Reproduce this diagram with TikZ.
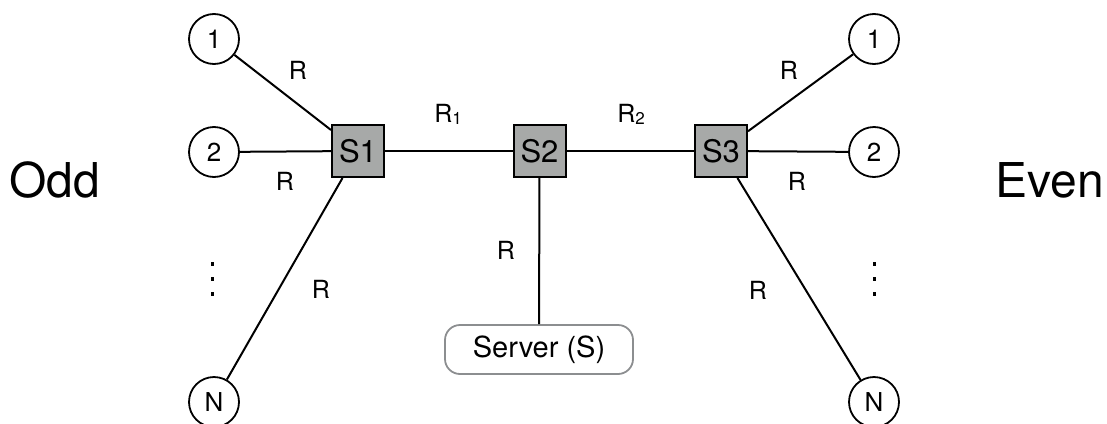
\documentclass[tikz,border=0pt]{standalone}
\usepackage{fontspec}
\setmainfont{TeX Gyre Heros}
\definecolor{boxgray}{HTML}{A7A9A8}
\definecolor{servergray}{HTML}{8C8E90}
\newcommand{\subidx}[1]{\raisebox{-2pt}{\fontsize{17}{17}\selectfont #1}}
\begin{document}
\begin{tikzpicture}[x=1pt,y=-1pt,line width=2pt,
  client/.style={circle,draw,line width=1.8pt,minimum size=50pt,inner sep=0pt,font=\fontsize{26}{26}\selectfont},
  switchbox/.style={draw,fill=boxgray,minimum size=52pt,inner sep=0pt,font=\fontsize{31}{31}\selectfont},
  server/.style={draw=servergray,line width=1.8pt,rounded corners=15pt,minimum width=188pt,minimum height=49pt,font=\fontsize{29}{29}\selectfont},
  lab/.style={font=\fontsize{25}{25}\selectfont,inner sep=0pt},
  big/.style={font=\fontsize{48}{48}\selectfont,inner sep=0pt}]
\useasboundingbox (0,0) rectangle (1107,423);
% switches
\node[switchbox] (s1) at (358,151) {S1};
\node[switchbox] (s2) at (539.5,151) {S2};
\node[switchbox] (s3) at (721,151) {S3};
\node[server] (srv) at (539,349.5) {Server (S)};
% left clients
\node[client] (l1) at (214,39) {1};
\node[client] (l2) at (214,152) {2};
\node[client] (lN) at (214,402) {N};
% right clients
\node[client] (r1) at (874,39) {1};
\node[client] (r2) at (874,152) {2};
\node[client] (rN) at (874,402) {N};
% links
\draw (l1) -- (s1);
\draw (l2) -- (s1);
\draw (lN) -- (s1);
\draw (r1) -- (s3);
\draw (r2) -- (s3);
\draw (rN) -- (s3);
\draw (s1) -- (s2);
\draw (s2) -- (s3);
\draw (s2) -- (srv);
% labels
\node[lab] (a1) at (298,70) {R};
\node[lab] (a2) at (285,181) {R};
\node[lab] (a3) at (321,289) {R};
\node[lab] (b1) at (789,70) {R};
\node[lab] (b2) at (797,181) {R};
\node[lab] (b3) at (758,290) {R};
\node[lab] (c1) at (506,250) {R};
\node[lab] (q1) at (448,114) {R\subidx{1}};
\node[lab] (q2) at (631,114) {R\subidx{2}};
% dots
\foreach \y in {262,277,292}{
  \fill (210.5,\y) rectangle (214,\y+3.5);
  \fill (872.5,\y) rectangle (876,\y+3.5);
}
% side titles
\node[big] (odd) at (55,180) {Odd};
\node[big] (even) at (1050,180) {Even};
\end{tikzpicture}
\end{document}
